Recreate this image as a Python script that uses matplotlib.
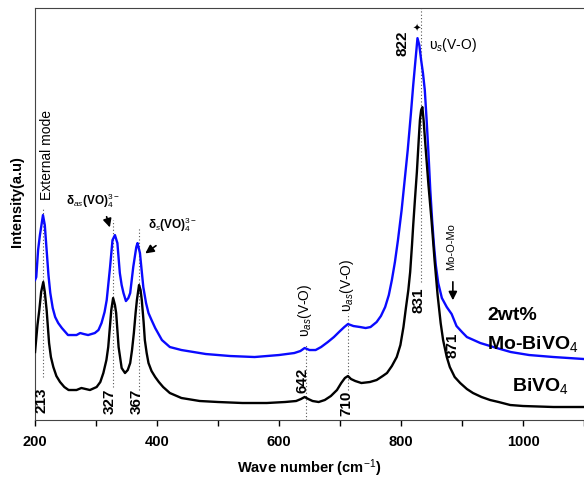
import numpy as np
import matplotlib.pyplot as plt
from matplotlib.ticker import MultipleLocator

plt.rcParams['font.family'] = ['Liberation Sans', 'DejaVu Sans']
plt.rcParams['mathtext.fontset'] = 'custom'
plt.rcParams['mathtext.rm'] = 'Liberation Sans'
plt.rcParams['mathtext.it'] = 'Liberation Sans:italic'
plt.rcParams['mathtext.bf'] = 'Liberation Sans:bold'

# BiVO4 (black)
wn_bi = [200, 204, 207, 210, 213.5, 216, 219, 223, 226, 230, 235, 241, 248, 255, 268,
         276, 283, 290, 301, 307, 312, 317, 320, 323, 325, 328, 331, 333, 337, 342,
         347.5, 352, 356, 359, 362, 365, 367, 370.5, 373, 375, 378, 380, 383, 386, 391,
         397, 403, 410, 421, 440, 470, 500, 540, 580, 610, 628, 636, 642, 648, 655,
         665, 675, 685, 695, 702, 708, 713, 718, 725, 735, 749, 760, 770, 777, 785,
         793, 799, 804, 808, 812, 815, 818, 820, 823, 826, 829, 831, 833, 835, 837,
         840, 845, 850, 855, 860, 865, 869, 875, 880, 888, 897, 908, 918, 932, 946,
         960, 979, 1000, 1050, 1100]
int_bi = [68, 95, 110, 128, 138, 128, 110, 77, 63, 53, 44, 38, 33, 30, 30,
          32, 31, 30, 33, 38, 47, 60, 73, 95, 110, 122, 115, 107, 73, 52,
          47, 50, 57, 70, 87, 108, 120, 135, 130, 120, 98, 80, 67, 57, 49,
          43, 38, 33, 27, 22, 19, 18, 17, 17, 18, 19, 21, 23, 21, 19,
          18, 20, 24, 30, 37, 42, 44, 41, 39, 37, 38, 40, 44, 47, 54,
          63, 75, 93, 112, 130, 148, 175, 195, 222, 248, 280, 300, 310, 313, 300,
          275, 235, 200, 160, 125, 97, 80, 63, 53, 43, 37, 31, 27, 23, 20,
          18, 15, 14, 13, 13]

# 2wt% Mo-BiVO4 (blue)
wn_mo = [200, 202, 205, 208, 210, 213, 216, 219, 222, 225, 229, 233, 238, 244, 254,
         262, 268, 274, 280, 287, 298, 304, 309, 314, 317.5, 320, 323, 327, 331, 335,
         339, 342, 345, 349, 353, 356, 361, 366, 368, 372, 377.5, 382, 386, 391, 397,
         408, 421, 440, 480, 520, 560, 600, 625, 635, 642, 650, 660, 669, 680, 690,
         700, 707, 713, 722, 733, 742, 750, 760, 767, 774, 780, 785, 790, 795, 801,
         806, 811, 816, 820, 824, 827, 830, 833, 836, 839, 842, 845, 848, 851, 854,
         857, 861, 867, 875, 883, 891, 900, 908, 930, 957, 980, 1010, 1050, 1100]
int_mo = [140, 143, 170, 185, 193, 205, 195, 170, 145, 127, 112, 103, 97, 92, 85,
          85, 85, 87, 86, 85, 87, 90, 97, 108, 120, 135, 153, 180, 185, 177,
          147, 135, 127, 119, 122, 127, 153, 173, 177, 167, 133, 117, 107, 100, 92,
          80, 73, 70, 66, 64, 63, 65, 67, 69, 72, 70, 70, 73, 78, 83,
          89, 93, 96, 94, 93, 92, 93, 98, 104, 113, 125, 140, 158, 180, 210,
          240, 270, 305, 335, 362, 382, 375, 360, 347, 330, 300, 267, 230, 200, 175,
          155, 137, 122, 113, 106, 94, 88, 83, 77, 72, 68, 65, 63, 61]

fig = plt.figure(figsize=(5.84, 4.8), dpi=100)
ax = fig.add_axes([0.06, 0.125, 0.94, 0.858])

ax.plot(wn_mo, int_mo, color='#0a0aff', lw=1.7, zorder=3)
ax.plot(wn_bi, int_bi, color='black', lw=1.7, zorder=3)

# dotted guide lines at peak positions
dots = [(212.6, 43, 213), (327, 33, 200), (370, 30, 192), (644, 0, 75),
        (713, 30, 107), (833, 138, 412)]
for xv, y0, y1 in dots:
    ax.plot([xv, xv], [y0, y1], ls=(0, (1, 2)), color='#555555', lw=0.8, zorder=1)

# peak numbers
peak_lbl = [(211, 20, '213'), (322, 19, '327'), (367, 19, '367'),
            (638, 40, '642'), (710, 17, '710'), (829, 120, '831'),
            (885, 75, '871'), (802, 377, '822')]
for xv, yv, s in peak_lbl:
    ax.text(xv, yv, s, rotation=90, fontsize=11, fontweight='bold',
            ha='center', va='center')

ax.text(220, 265, 'External mode', rotation=90, fontsize=10, ha='center', va='center')
ax.text(295, 219, r'δ$_{as}$(VO)$_4^{3-}$', fontsize=8.5, fontweight='bold',
        ha='center', va='center')
ax.annotate('', xy=(324, 190), xytext=(316, 206),
            arrowprops=dict(arrowstyle='-|>,head_width=0.25,head_length=0.5',
                            color='black', lw=1.2))
ax.text(426, 195, r'δ$_{s}$(VO)$_4^{3-}$', fontsize=8.5, fontweight='bold',
        ha='center', va='center')
ax.annotate('', xy=(377, 165), xytext=(402, 176),
            arrowprops=dict(arrowstyle='-|>,head_width=0.25,head_length=0.5',
                            color='black', lw=1.2))
ax.text(642, 110, r'υ$_{as}$(V-O)', rotation=90, fontsize=10, ha='center', va='center')
ax.text(712, 135, r'υ$_{as}$(V-O)', rotation=90, fontsize=10, ha='center', va='center')
ax.text(846, 375, r'υ$_{s}$(V-O)', fontsize=10, ha='left', va='center')
ax.text(825, 391, '✦', fontsize=7, ha='center', va='center')
ax.text(882, 174, 'Mo-O-Mo', rotation=90, fontsize=8, ha='center', va='center')
ax.annotate('', xy=(885, 117), xytext=(885, 141),
            arrowprops=dict(arrowstyle='-|>,head_width=0.25,head_length=0.5',
                            color='black', lw=1.2))

ax.text(941, 105, '2wt%', fontsize=14, fontweight='bold', ha='left', va='center')
ax.text(941, 76, r'Mo-BiVO$_4$', fontsize=14, fontweight='bold', ha='left', va='center')
ax.text(982, 34, r'BiVO$_4$', fontsize=14, fontweight='bold', ha='left', va='center')

ax.set_xlim(200, 1100)
ax.set_ylim(0, 412)
ax.set_yticks([])
ax.xaxis.set_major_locator(MultipleLocator(200))
ax.xaxis.set_minor_locator(MultipleLocator(100))
ax.tick_params(axis='x', which='both', direction='out', length=4, width=1, pad=7)
for lab in ax.get_xticklabels():
    lab.set_fontweight('bold')
    lab.set_fontsize(10.5)
ax.spines['right'].set_visible(False)
for sp in ax.spines.values():
    sp.set_color('#444444')

ax.set_xlabel(r'Wave number (cm$^{-1}$)', fontsize=10.5, fontweight='bold', labelpad=6)
ax.set_ylabel('Intensity(a.u)', fontsize=10.5, fontweight='bold')
ax.yaxis.set_label_coords(-0.02, 0.53)

fig.savefig('out.png', dpi=100)
